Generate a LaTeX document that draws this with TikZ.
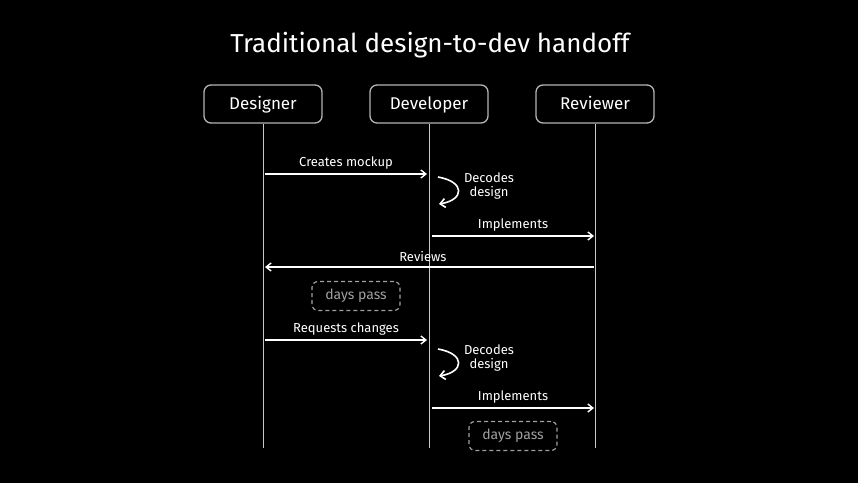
\documentclass[tikz,border=0pt]{standalone}
\usepackage{fontspec}
\setmainfont{Fira Sans}
\usetikzlibrary{arrows.meta}
\definecolor{lifegray}{HTML}{C8C8C8}
\definecolor{boxgray}{HTML}{B4B4B4}
\definecolor{dimgray}{HTML}{A0A0A0}
\begin{document}
\begin{tikzpicture}[x=1pt,y=-1pt,
  actor/.style={draw=boxgray,line width=1.3pt,rounded corners=7pt,minimum width=118pt,minimum height=38pt,text=white,font=\fontsize{17}{19}\selectfont,text height=1.5ex,text depth=0.3ex},
  life/.style={draw=lifegray,line width=1pt},
  msg/.style={draw=white,line width=1.4pt,-{Straight Barb[length=5pt,width=8pt]}},
  lbl/.style={text=white,font=\fontsize{13}{14}\selectfont},
  waitbox/.style={draw=dimgray,dashed,dash pattern=on 4pt off 3pt,line width=1.2pt,rounded corners=6pt,minimum width=88pt,minimum height=29pt,text=dimgray,font=\fontsize{14}{16}\selectfont},
  loop/.style={draw=white,line width=1.6pt,-{Straight Barb[length=5pt,width=9pt]}}]
\fill[black] (0,0) rectangle (858,483);
\useasboundingbox (0,0) rectangle (858,483);
\node[text=white,font=\fontsize{26}{30}\selectfont] (title) at (430,45) {Traditional design-to-dev handoff};
\node[actor] (des) at (263,104) {};
\node[actor] (dev) at (429,104) {};
\node[actor] (rev) at (595,104) {};
\node[text=white,font=\fontsize{17}{19}\selectfont,text height=1.5ex,text depth=0.3ex] (desT) at (263,106) {Designer};
\node[text=white,font=\fontsize{17}{19}\selectfont,text height=1.5ex,text depth=0.3ex] (devT) at (429,106) {Developer};
\node[text=white,font=\fontsize{17}{19}\selectfont,text height=1.5ex,text depth=0.3ex] (revT) at (595,106) {Reviewer};
\coordinate (desE) at (263,448);
\coordinate (devE) at (429,448);
\coordinate (revE) at (595,448);
\draw[life] (des.south) -- (desE);
\draw[life] (dev.south) -- (devE);
\draw[life] (rev.south) -- (revE);
% messages
\coordinate (a1) at (265,174); \coordinate (b1) at (427,174);
\draw[msg] (a1) -- node[lbl,above=1pt] (l1) {Creates mockup} (b1);
\coordinate (s1a) at (438,177); \coordinate (s1b) at (439,204);
\draw[loop] (s1a) .. controls (466,182) and (464,200) .. (s1b);
\node[lbl,align=center,inner sep=0pt] (d1) at (489,186) {Decodes\\design};
\coordinate (a2) at (432,236); \coordinate (b2) at (594,236);
\draw[msg] (a2) -- node[lbl,above=1pt] (l2) {Implements} (b2);
\coordinate (a3) at (594,267); \coordinate (b3) at (265,267);
\draw[msg] (a3) -- node[lbl,above=1pt,pos=0.52] (l3) {Reviews} (b3);
\node[waitbox] (w1) at (356,296) {days pass};
\coordinate (a4) at (265,340); \coordinate (b4) at (427,340);
\draw[msg] (a4) -- node[lbl,above=1pt] (l4) {Requests changes} (b4);
\coordinate (s2a) at (438,349); \coordinate (s2b) at (439,376);
\draw[loop] (s2a) .. controls (466,354) and (464,372) .. (s2b);
\node[lbl,align=center,inner sep=0pt] (d2) at (489,358) {Decodes\\design};
\coordinate (a5) at (432,408); \coordinate (b5) at (594,408);
\draw[msg] (a5) -- node[lbl,above=1pt] (l5) {Implements} (b5);
\node[waitbox] (w2) at (513,436) {days pass};
\end{tikzpicture}
\end{document}
